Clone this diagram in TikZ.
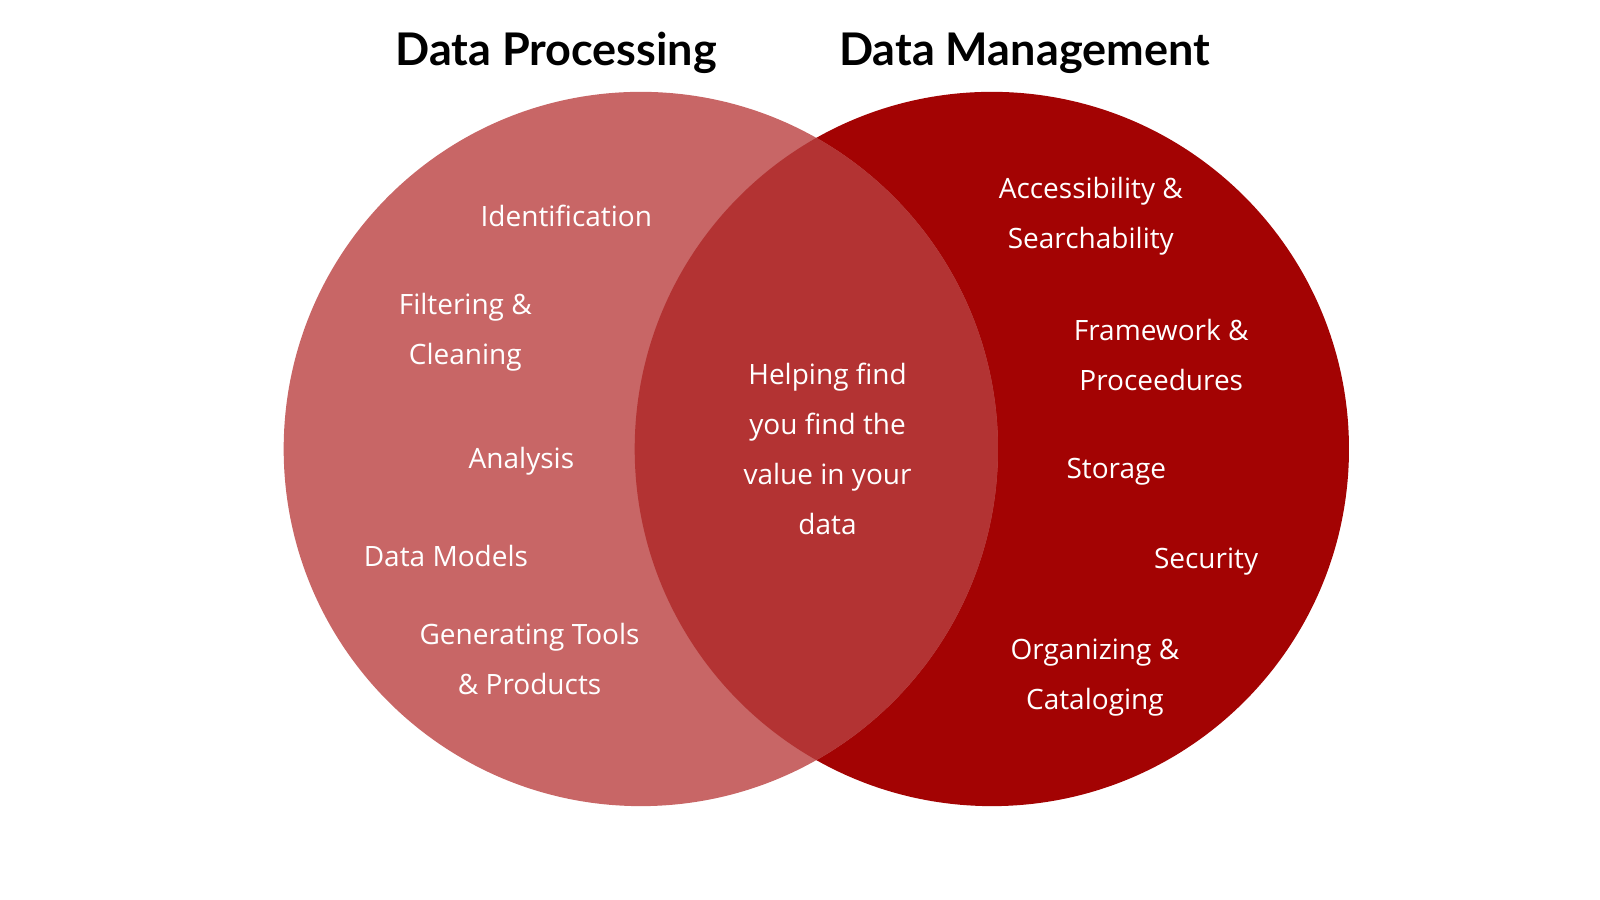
\documentclass[tikz,border=0pt]{standalone}
\usepackage{fontspec}
\setmainfont{Open Sans}
\newfontfamily\titlefont{Lato}
\definecolor{lc}{HTML}{C86666}
\definecolor{rc}{HTML}{A30303}
\definecolor{mc}{HTML}{B33333}
\begin{document}
\begin{tikzpicture}[x=1.0204pt,y=-1.0204pt,
  lab/.style={text=white,font=\fontsize{28}{50}\selectfont,align=center,inner sep=0pt},
  ttl/.style={font=\titlefont\bfseries\fontsize{45}{50}\selectfont,inner sep=0pt}]
\useasboundingbox (0,0) rectangle (1568,882);
\fill[rc] (972,440) circle (350);
\fill[lc] (628,440) circle (350);
\begin{scope}
\clip (972,440) circle (350);
\fill[mc] (628,440) circle (350);
\end{scope}
\node[ttl] (t1) at (545,52) {Data Processing};
\node[ttl] (t2) at (1004,52) {Data Management};
\node[lab] (a1) at (555,212) {Identification};
\node[lab] (a2) at (456,326) {Filtering \&\\Cleaning};
\node[lab] (a3) at (511,452) {Analysis};
\node[lab] (a4) at (437,545) {Data Models};
\node[lab] (a5) at (519,646) {Generating Tools\\\& Products};
\node[lab] (c) at (811,440) {Helping find\\you find the\\value in your\\data};
\node[lab] (b1) at (1069,212) {Accessibility \&\\Searchability};
\node[lab] (b2) at (1138,348) {Framework \&\\Proceedures};
\node[lab] (b3) at (1094,462) {Storage};
\node[lab] (b4) at (1182,550) {Security};
\node[lab] (b5) at (1073,664) {Organizing \&\\Cataloging};
\end{tikzpicture}
\end{document}
